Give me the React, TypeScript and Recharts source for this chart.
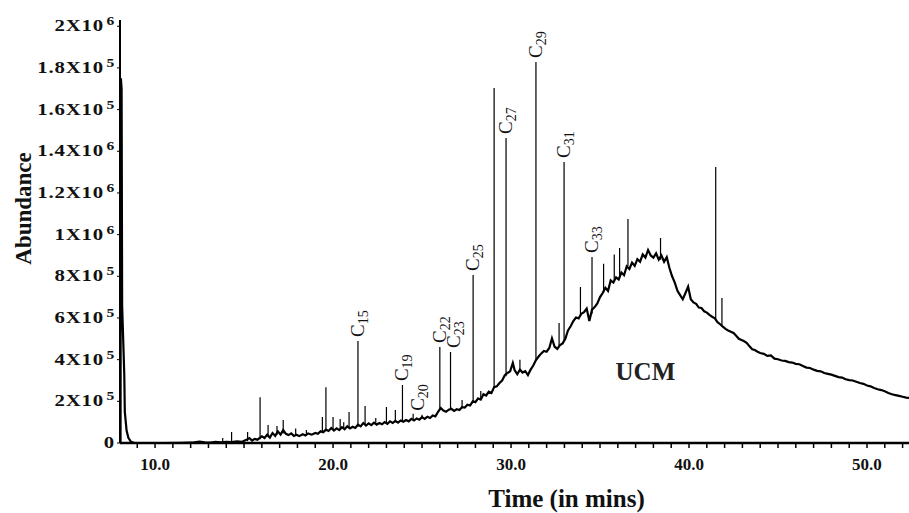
import React from 'react';
import { ComposedChart, Line, Scatter, XAxis, YAxis, Label } from 'recharts';

const FONT = "'Liberation Serif', 'Times New Roman', serif";

// Abundance values are in thousands of counts; time in minutes.
const solventTrace: [number, number][] = [
  [8.06, 0], [8.08, 1750], [8.12, 1700], [8.15, 660], [8.27, 330], [8.3, 150],
  [8.4, 60], [8.5, 25], [8.65, 6], [8.85, 0],
];

const earlyTrace: [number, number][] = [
  [9.5, 0], [10.5, 0], [11.5, 1], [12.2, 3], [12.5, 7], [12.8, 3], [13.1, 2], [13.4, 6],
  [13.7, 3], [14.0, 5], [14.3, 4], [14.6, 8], [14.9, 6], [15.1, 14], [15.3, 24], [15.45, 12],
  [15.6, 20], [15.75, 16], [16.0, 32], [16.15, 24], [16.3, 40], [16.45, 26], [16.6, 48],
  [16.75, 34], [16.9, 56], [17.05, 40], [17.2, 62], [17.35, 44], [17.5, 38], [17.65, 46],
  [17.8, 34], [17.95, 40], [18.1, 33], [18.3, 42], [18.45, 36], [18.6, 46], [18.8, 40],
  [19.0, 48], [19.15, 44], [19.3, 56], [19.45, 52], [19.6, 64], [19.75, 58], [19.9, 72],
  [20.05, 60], [20.2, 70], [20.35, 62], [20.5, 76], [20.65, 66], [20.8, 80], [20.95, 70],
  [21.1, 78], [21.25, 72], [21.4, 88], [21.55, 80], [21.7, 96], [21.85, 84], [22.0, 94],
  [22.15, 86], [22.3, 98], [22.45, 88], [22.6, 96], [22.75, 90], [22.9, 100], [23.05, 92],
  [23.2, 104], [23.35, 96], [23.5, 106], [23.65, 98], [23.8, 108], [23.95, 102],
];

const midTrace: [number, number][] = [
  [24.1, 110], [24.25, 104], [24.4, 116], [24.55, 108], [24.7, 118], [24.85, 112], [25.0, 124],
  [25.15, 116], [25.3, 126], [25.45, 120], [25.6, 132], [25.75, 128], [25.9, 150], [26.05, 168],
  [26.2, 156], [26.35, 150], [26.5, 160], [26.65, 164], [26.8, 154], [26.95, 162], [27.1, 158],
  [27.25, 172], [27.4, 170], [27.55, 184], [27.7, 180], [27.85, 200], [28.0, 196], [28.15, 214],
  [28.3, 208], [28.45, 234], [28.6, 228], [28.75, 246], [28.9, 240], [29.05, 268], [29.2, 272],
  [29.35, 288], [29.5, 300], [29.65, 325], [29.8, 336], [29.95, 344], [30.1, 384], [30.2, 350],
  [30.35, 330], [30.5, 352], [30.65, 338], [30.8, 345], [30.95, 326], [31.1, 352], [31.25, 372],
  [31.4, 398], [31.55, 415], [31.7, 430], [31.85, 442], [32.0, 438], [32.15, 456], [32.3, 502],
  [32.45, 462], [32.6, 452], [32.75, 470], [32.9, 478], [33.05, 500], [33.2, 540], [33.35, 560],
  [33.5, 585], [33.65, 602], [33.8, 598], [33.95, 620], [34.1, 628], [34.25, 645], [34.4, 585],
  [34.55, 640], [34.7, 652], [34.85, 670], [35.0, 700],
];

const humpTrace: [number, number][] = [
  [35.15, 720], [35.3, 745], [35.45, 730], [35.6, 780], [35.75, 770], [35.9, 795], [36.05, 785],
  [36.2, 818], [36.35, 805], [36.5, 848], [36.65, 835], [36.8, 866], [36.95, 850], [37.1, 882],
  [37.25, 870], [37.4, 905], [37.55, 890], [37.7, 926], [37.85, 900], [38.0, 890], [38.15, 910],
  [38.3, 880], [38.45, 900], [38.6, 870], [38.75, 892], [38.9, 840], [39.05, 800], [39.2, 770],
  [39.35, 730], [39.5, 710], [39.65, 690], [39.8, 720], [39.95, 750], [40.1, 690], [40.25, 675],
  [40.4, 668], [40.55, 650], [40.7, 648], [40.85, 632], [41.0, 626], [41.15, 615], [41.3, 606],
  [41.45, 598], [41.6, 580], [41.75, 570], [41.9, 558], [42.05, 548], [42.2, 540], [42.35, 534],
  [42.5, 528], [42.65, 515], [42.8, 500], [42.95, 494], [43.1, 488], [43.25, 480], [43.4, 464],
  [43.55, 450], [43.7, 446], [43.85, 438], [44.0, 432],
];

const tailTrace: [number, number][] = [
  [44.2, 428], [44.4, 418], [44.6, 420], [44.8, 405], [45.0, 402], [45.2, 396], [45.4, 394],
  [45.6, 388], [45.8, 386], [46.0, 380], [46.2, 378], [46.4, 370], [46.6, 362], [46.8, 360],
  [47.0, 352], [47.2, 346], [47.4, 344], [47.6, 336], [47.8, 332], [48.0, 328], [48.2, 322],
  [48.4, 316], [48.6, 314], [48.8, 306], [49.0, 302], [49.2, 300], [49.4, 294], [49.6, 288],
  [49.8, 284], [50.0, 276], [50.2, 272], [50.4, 264], [50.6, 258], [50.8, 254], [51.0, 248],
  [51.2, 240], [51.4, 234], [51.6, 230], [51.8, 226], [52.0, 222], [52.2, 218], [52.4, 216],
];

const spikeTimes = [
  13.8, 14.3, 15.2, 15.9, 16.35, 16.85, 17.2, 17.9, 18.5, 19.4, 19.6, 20.0, 20.4, 20.6, 20.9,
  21.4, 21.8, 22.4, 23.0, 23.5, 23.9, 24.5, 25.0, 26.0, 26.6, 27.25, 27.87, 28.3, 29.05, 29.72,
  30.5, 31.4, 32.7, 32.98, 33.9, 34.55, 35.2, 35.8, 36.1, 36.57, 38.4, 41.5, 41.85,
];
const spikeBase = [
  2, 3, 8, 18, 30, 40, 45, 36, 40, 52, 58, 62, 70, 68, 72,
  78, 88, 90, 96, 100, 104, 110, 118, 160, 158, 168, 200, 210, 265, 320,
  350, 395, 465, 490, 610, 620, 720, 780, 800, 850, 880, 595, 560,
];
const spikeTops = [
  24, 53, 53, 220, 86, 81, 110, 70, 62, 125, 267, 125, 115, 100, 149,
  490, 178, 120, 173, 158, 278, 140, 135, 461, 437, 206, 806, 250, 1704, 1464,
  400, 1829, 576, 1349, 749, 893, 860, 905, 936, 1075, 984, 1325, 696,
];

const alkaneNumbers = ['15', '19', '20', '22', '23', '25', '27', '29', '31', '33'];
const alkaneTimes = [21.4, 23.9, 25.0, 26.0, 26.6, 27.87, 29.72, 31.4, 32.98, 34.55];
const alkaneTops = [490, 278, 135, 461, 437, 806, 1464, 1829, 1349, 893];

const ucmLabel = { text: 'UCM', t: 37.55, a: 300 };

const xTicks = [9, 10, 11, 12, 13, 14, 15, 16, 17, 18, 19, 20, 21, 22, 23, 24, 25, 26, 27, 28, 29, 30,
  31, 32, 33, 34, 35, 36, 37, 38, 39, 40, 41, 42, 43, 44, 45, 46, 47, 48, 49, 50, 51, 52];
const yTickValues = [0, 200, 400, 600, 800, 1000, 1200, 1400, 1600, 1800, 2000];
const yTickMantissa = ['0', '2', '4', '6', '8', '1', '1.2', '1.4', '1.6', '1.8', '2'];
const yTickExponent = ['', '5', '5', '5', '5', '6', '6', '6', '5', '5', '6'];

const traceData = [...solventTrace, ...earlyTrace, ...midTrace, ...humpTrace, ...tailTrace].map(
  ([t, a]) => ({ t, a })
);
const spikeData = spikeTimes.flatMap((t, i) => [
  { t, a: spikeBase[i] },
  { t, a: spikeTops[i] },
  { t, a: null as number | null },
]);
const labelData = alkaneNumbers.map((n, i) => ({ t: alkaneTimes[i], a: alkaneTops[i], n }));
const ucmData = [{ t: ucmLabel.t, a: ucmLabel.a, n: ucmLabel.text }];

const labelNudge: Record<string, number> = { '23': 3, '20': -4 };

const AlkaneLabel = (props: any) => {
  const { cx, cy, payload } = props;
  const dx = labelNudge[payload.n] || 0;
  return (
    <text
      transform={`translate(${cx + 6 + dx},${cy - 4}) rotate(-90)`}
      fontFamily={FONT}
      fontSize={19}
      fill="#111"
    >
      C<tspan fontSize={14} dy={4}>{payload.n}</tspan>
    </text>
  );
};

const UcmText = (props: any) => {
  const { cx, cy, payload } = props;
  return (
    <text x={cx} y={cy} textAnchor="middle" fontFamily={FONT} fontWeight="bold" fontSize={25} fill="#222">
      {payload.n}
    </text>
  );
};

const XTick = (props: any) => {
  const { x, y, payload } = props;
  const v = payload.value as number;
  if (v % 10 !== 0) return <g />;
  return (
    <text x={x} y={y + 20} textAnchor="middle" fontFamily={FONT} fontWeight="bold" fontSize={17} fill="#111">
      {v.toFixed(1)}
    </text>
  );
};

const YTick = (props: any) => {
  const { x, y, payload } = props;
  const i = yTickValues.indexOf(payload.value);
  const exp = yTickExponent[i];
  return (
    <g transform={`translate(${x},${y}) scale(1.3,1)`}>
      <text x={0} y={5} textAnchor="end" fontFamily={FONT} fontWeight="bold" fontSize={16} letterSpacing={0.6} fill="#111">
        {yTickMantissa[i]}
        {exp ? <tspan>X10</tspan> : null}
        {exp ? (
          <tspan dx={2} dy={-6} fontSize={12}>
            {exp}
          </tspan>
        ) : null}
      </text>
    </g>
  );
};

export default function App() {
  return (
    <div style={{ position: 'absolute', left: 0, top: 0, width: 909, height: 513, background: '#fff' }}>
      <ComposedChart width={909} height={513} margin={{ top: 20, right: 0, bottom: 0, left: 0 }}>
        <XAxis
          dataKey="t"
          type="number"
          domain={[8.03, 52.36]}
          allowDataOverflow
          ticks={xTicks}
          interval={0}
          height={70}
          tick={<XTick />}
          tickSize={5}
          tickLine={{ stroke: '#000', strokeWidth: 1.5 }}
          axisLine={{ stroke: '#000', strokeWidth: 2.5 }}
        >
          <Label
            content={(p: any) => {
              const vb = p.viewBox;
              return (
                <text
                  x={vb.x + vb.width / 2 + 52}
                  y={vb.y + 64}
                  textAnchor="middle"
                  fontFamily={FONT}
                  fontWeight="bold"
                  fontSize={25}
                  fill="#111"
                >
                  Time (in mins)
                </text>
              );
            }}
          />
        </XAxis>
        <YAxis
          type="number"
          domain={[0, 2030]}
          allowDataOverflow
          ticks={yTickValues}
          interval={0}
          width={120}
          tick={<YTick />}
          tickSize={3}
          tickMargin={2}
          tickLine={{ stroke: '#000', strokeWidth: 1 }}
          axisLine={{ stroke: '#000', strokeWidth: 2 }}
        >
          <Label
            content={(p: any) => {
              const vb = p.viewBox;
              const cx = vb.x + 24;
              const cy = vb.y + vb.height / 2 - 23;
              return (
                <text
                  transform={`translate(${cx + 7},${cy}) rotate(-90)`}
                  textAnchor="middle"
                  fontFamily={FONT}
                  fontWeight="bold"
                  fontSize={23}
                  fill="#111"
                >
                  Abundance
                </text>
              );
            }}
          />
        </YAxis>
        <Line
          data={traceData}
          dataKey="a"
          type="linear"
          stroke="#000"
          strokeWidth={2.2}
          dot={false}
          isAnimationActive={false}
        />
        <Line
          data={spikeData}
          dataKey="a"
          type="linear"
          stroke="#000"
          strokeWidth={1.2}
          dot={false}
          connectNulls={false}
          isAnimationActive={false}
        />
        <Scatter data={labelData} dataKey="a" shape={AlkaneLabel} isAnimationActive={false} />
        <Scatter data={ucmData} dataKey="a" shape={UcmText} isAnimationActive={false} />
      </ComposedChart>
    </div>
  );
}
